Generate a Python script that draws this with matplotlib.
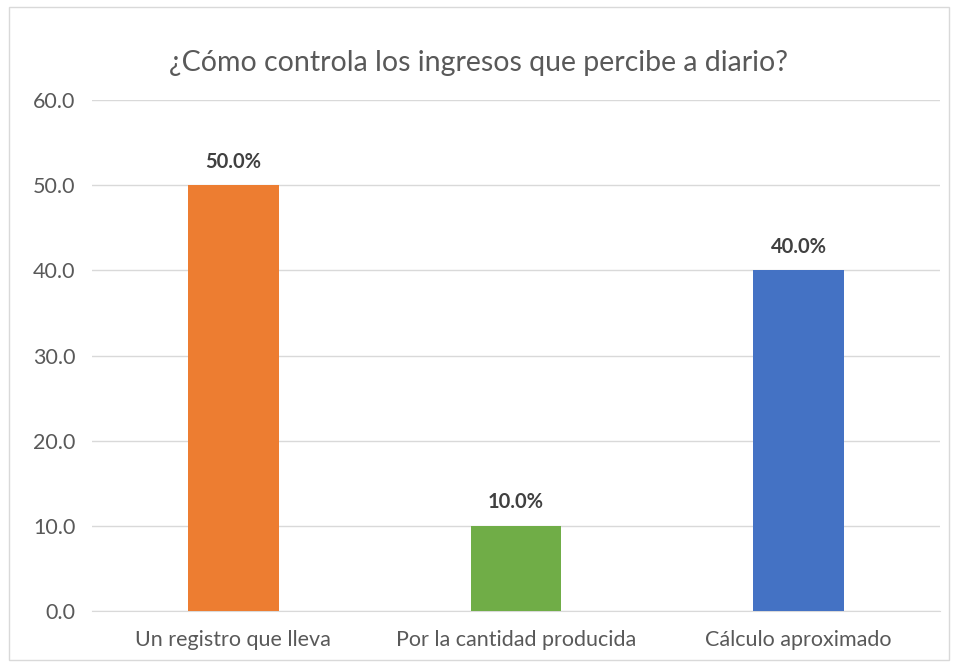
import matplotlib.pyplot as plt
from matplotlib.patches import Rectangle

plt.rcParams['font.family'] = ['Lato', 'DejaVu Sans']

categories = ['Un registro que lleva', 'Por la cantidad producida', 'Cálculo aproximado']
values = [50.0, 10.0, 40.0]
colors = ['#ED7D31', '#70AD47', '#4472C4']
yticks = [0, 10, 20, 30, 40, 50, 60]

fig = plt.figure(figsize=(9.57, 6.68), dpi=100)
ax = fig.add_axes([0.0961, 0.0853, 0.886, 0.7650])

# chart border
fig.patches.append(Rectangle((0.009, 0.012), 0.983, 0.977, transform=fig.transFigure,
                             fill=False, edgecolor='#D9D9D9', linewidth=1))

x = range(len(categories))
bars = ax.bar(x, values, width=0.32, color=colors, zorder=3)
for b, v in zip(bars, values):
    ax.text(b.get_x() + b.get_width() / 2, v + 1.6, f'{v:.1f}%', ha='center', va='bottom',
            fontsize=14.5, fontweight='bold', color='#404040')

ax.set_xlim(-0.5, 2.5)
ax.set_ylim(0, 60)
ax.set_yticks(yticks)
ax.set_yticklabels([f'{t:.1f}' for t in yticks])
ax.set_xticks(list(x))
ax.set_xticklabels(categories)
ax.tick_params(axis='both', length=0, labelsize=15.5, colors='#595959')
ax.tick_params(axis='y', pad=12)
ax.tick_params(axis='x', pad=14)
ax.grid(axis='y', color='#D9D9D9', linewidth=1, zorder=0)
for s in ['top', 'right', 'left']:
    ax.spines[s].set_visible(False)
ax.spines['bottom'].set_color('#D9D9D9')

fig.text(0.5, 0.905, '¿Cómo controla los ingresos que percibe a diario?', ha='center', va='center',
         fontsize=20.5, color='#595959')

fig.savefig('out.png', dpi=100)
